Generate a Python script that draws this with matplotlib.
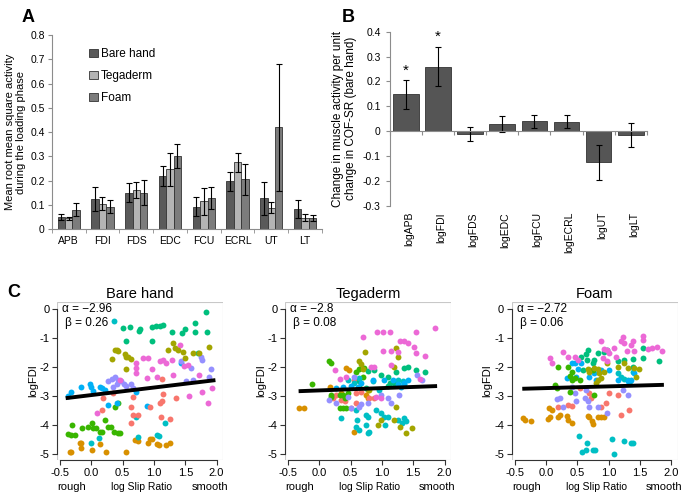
import matplotlib
matplotlib.use("Agg")
import matplotlib.pyplot as plt
from matplotlib.patches import Rectangle
import numpy as np

plt.rcParams['font.family'] = ['Liberation Sans', 'DejaVu Sans']

# ---- panel A data ----
muscles = ["APB", "FDI", "FDS", "EDC", "FCU", "ECRL", "UT", "LT"]
bare_rms = [0.050, 0.125, 0.150, 0.220, 0.093, 0.197, 0.128, 0.083]
bare_rms_err = [0.012, 0.050, 0.040, 0.040, 0.040, 0.040, 0.068, 0.037]
tega_rms = [0.045, 0.105, 0.160, 0.247, 0.115, 0.275, 0.088, 0.047]
tega_rms_err = [0.007, 0.028, 0.033, 0.068, 0.055, 0.040, 0.022, 0.015]
foam_rms = [0.080, 0.093, 0.150, 0.303, 0.128, 0.205, 0.420, 0.047]
foam_rms_err = [0.027, 0.027, 0.052, 0.050, 0.045, 0.063, 0.263, 0.012]

# ---- panel B data ----
log_muscles = ["logAPB", "logFDI", "logFDS", "logEDC", "logFCU", "logECRL", "logUT", "logLT"]
slope_change = [0.148, 0.260, -0.012, 0.028, 0.040, 0.038, -0.125, -0.015]
slope_err = [0.057, 0.080, 0.027, 0.033, 0.027, 0.027, 0.070, 0.050]
significant = [True, True, False, False, False, False, False, False]

# ---- panel C data (log slip ratio, logFDI) per subject colour ----
BARE_ORANGE = [(-0.35, -4.93), (-0.32, -4.93), (-0.19, -4.62), (-0.16, -4.60), (-0.17, -4.79),
               (0.01, -4.87), (0.14, -4.64), (0.23, -4.94), (0.55, -4.93), (0.69, -4.51),
               (0.75, -4.56), (0.93, -4.48), (0.91, -4.62), (0.97, -4.46), (1.04, -4.64),
               (1.08, -4.68), (1.19, -4.70), (1.26, -4.62)]
BARE_GREEN = [(-0.38, -4.32), (-0.33, -4.33), (-0.27, -4.34), (-0.31, -3.99), (-0.15, -4.08),
              (-0.06, -4.05), (0.01, -3.93), (0.03, -4.10), (0.08, -4.11), (0.14, -4.25),
              (0.17, -4.23), (0.21, -3.82), (0.26, -4.05), (0.31, -4.07), (0.36, -4.25),
              (0.42, -4.28), (0.45, -4.28), (0.43, -3.24), (0.38, -3.36)]
BARE_TEAL = [(0.51, -0.66), (0.62, -0.60), (0.56, -1.09), (0.77, -0.69), (0.76, -0.74),
             (0.96, -1.11), (0.97, -0.62), (1.03, -0.57), (1.09, -0.57), (1.14, -0.56),
             (1.28, -0.79), (1.45, -0.83), (1.50, -0.69), (1.66, -0.79), (1.66, -0.48),
             (1.83, -0.08), (1.85, -0.77), (1.70, -1.52)]
BARE_CYAN = [(0.36, -0.39), (0.00, -4.60), (0.12, -4.45), (1.04, -4.33), (1.08, -4.36),
             (1.17, -3.93), (0.71, -3.70), (0.74, -4.39)]
BARE_BLUE = [(-0.38, -2.99), (-0.32, -2.87), (-0.16, -2.69), (-0.02, -2.57), (-0.01, -2.69),
             (0.02, -2.82), (0.13, -2.69), (0.17, -2.72), (0.22, -2.78), (0.27, -3.30),
             (0.41, -3.24), (0.72, -2.84), (0.88, -3.33), (1.43, -1.86)]
BARE_PURPLE = [(0.27, -2.49), (0.33, -2.41), (0.38, -2.34), (0.43, -2.44), (0.48, -2.49),
               (0.52, -2.57), (0.56, -2.64), (0.64, -2.57), (0.67, -2.72), (0.35, -2.67),
               (0.41, -2.57), (1.43, -1.80), (1.75, -1.63), (1.77, -1.75), (1.59, -2.03),
               (1.91, -2.07), (1.88, -2.32), (1.62, -2.44), (1.51, -2.49)]
BARE_PINK = [(0.83, -1.69), (0.91, -1.67), (0.72, -1.86), (0.72, -2.03), (0.72, -2.21),
             (0.88, -2.38), (0.96, -2.07), (1.04, -2.32), (1.09, -1.80), (1.14, -1.75),
             (1.19, -1.86), (1.29, -1.75), (1.30, -2.26), (1.41, -1.23), (1.48, -1.95),
             (1.54, -1.92), (1.56, -2.99), (1.77, -2.84), (1.93, -2.72), (1.87, -3.24),
             (1.72, -2.26), (0.46, -2.44), (0.09, -3.59)]
BARE_SALMON = [(0.17, -3.47), (0.64, -3.36), (0.67, -3.64), (0.75, -3.64), (0.64, -3.93),
               (0.93, -3.36), (1.09, -3.24), (1.13, -3.18), (1.14, -2.92), (1.11, -3.70),
               (1.25, -3.79), (1.35, -3.07), (1.13, -2.41), (0.67, -3.01), (0.35, -2.90),
               (0.19, -3.07)]
BARE_OLIVE = [(0.33, -1.71), (0.38, -1.40), (0.41, -1.40), (0.43, -1.43), (0.54, -1.54),
              (0.56, -1.63), (0.59, -1.66), (0.63, -1.72), (0.56, -2.07), (1.30, -1.17),
              (1.34, -1.34), (1.22, -1.40), (1.38, -1.40), (1.46, -1.46), (1.50, -1.69),
              (1.62, -1.52), (1.72, -1.52), (1.88, -1.29)]

TEGA_ORANGE = [(-0.32, -3.41), (-0.24, -3.41), (0.43, -2.03), (0.47, -2.11), (0.35, -2.90),
               (0.55, -4.25), (0.75, -2.95), (0.77, -2.78), (0.17, -2.67), (0.77, -3.07)]
TEGA_SALMON = [(0.22, -3.07), (0.35, -3.13), (0.41, -3.18), (0.27, -2.95), (0.67, -2.84),
               (0.80, -3.07), (0.88, -3.07), (0.59, -3.24), (0.51, -3.41), (0.56, -2.44),
               (0.59, -2.90)]
TEGA_GREEN = [(-0.11, -2.57), (0.15, -1.80), (0.19, -1.86), (0.18, -2.95), (0.19, -3.03),
              (0.33, -3.39), (0.38, -3.41), (0.42, -3.41), (0.41, -3.07), (0.38, -2.95),
              (0.45, -2.90), (0.59, -2.15), (0.64, -2.07), (0.72, -2.03), (0.70, -2.32),
              (0.64, -2.67), (0.33, -2.95)]
TEGA_TEAL = [(0.77, -2.13), (0.88, -2.09), (0.98, -2.26), (1.09, -2.32), (1.22, -2.15),
             (1.35, -2.03), (1.41, -2.00), (1.54, -2.11), (1.68, -2.15), (1.13, -2.55),
             (1.19, -2.55), (0.75, -2.72), (0.64, -2.49), (1.09, -2.64)]
TEGA_CYAN = [(0.35, -3.76), (0.59, -3.47), (0.60, -3.82), (0.59, -4.05), (0.64, -4.16),
             (0.75, -3.64), (0.77, -3.70), (0.75, -3.99), (0.77, -4.28), (0.80, -4.22),
             (0.91, -3.47), (0.98, -3.59), (1.04, -3.70), (1.09, -3.70), (1.05, -3.99),
             (1.25, -3.82), (1.35, -3.76), (1.32, -3.93), (1.38, -3.87), (0.46, -2.44),
             (0.56, -2.55), (0.64, -2.38), (0.85, -2.49), (0.96, -2.78), (1.25, -2.44),
             (1.33, -2.49), (1.36, -2.57)]
TEGA_BLUE = [(0.27, -2.72), (0.38, -2.69), (0.51, -2.64), (0.62, -2.67), (0.67, -2.55),
             (0.85, -2.44), (1.04, -2.44), (1.17, -2.44), (1.25, -2.57), (1.30, -2.67),
             (1.35, -2.53), (1.41, -2.44)]
TEGA_OLIVE = [(0.73, -1.49), (0.64, -1.80), (0.66, -1.89), (0.69, -2.07), (1.19, -2.00),
              (1.23, -1.34), (1.25, -1.63), (1.19, -3.82), (1.29, -4.05), (1.39, -4.28),
              (1.48, -4.10), (0.98, -3.82), (0.93, -3.99), (1.22, -3.36), (0.80, -2.78)]
TEGA_PURPLE = [(0.15, -3.13), (0.26, -3.24), (0.51, -3.41), (0.64, -3.36), (0.67, -3.26),
               (0.77, -3.24), (0.98, -2.95), (1.09, -3.07), (1.14, -3.24), (1.27, -2.95),
               (1.56, -2.26), (1.64, -2.44), (0.56, -2.32), (0.46, -3.01)]
TEGA_PINK = [(0.69, -0.97), (0.92, -0.80), (1.01, -1.43), (1.01, -0.80), (1.13, -0.77),
             (1.14, -1.43), (1.29, -1.11), (1.35, -1.11), (1.41, -1.15), (1.51, -1.29),
             (1.54, -0.79), (1.55, -1.52), (1.69, -1.60), (1.84, -0.66), (1.25, -1.49),
             (1.14, -1.92), (0.33, -2.41), (0.43, -2.32), (0.83, -1.98), (0.87, -2.00),
             (1.61, -2.41), (0.91, -3.03), (0.25, -2.09), (0.98, -3.07)]

FOAM_ORANGE = [(-0.37, -3.74), (-0.33, -3.82), (-0.24, -3.84), (0.03, -3.79), (0.06, -3.70),
               (0.19, -3.70), (0.22, -3.64), (0.33, -3.68), (0.35, -3.82), (0.42, -3.93),
               (0.67, -3.68), (0.69, -3.72), (0.73, -3.87), (0.75, -3.95), (0.83, -3.72),
               (0.88, -3.72), (0.93, -3.72), (0.05, -3.41), (0.09, -3.47)]
FOAM_SALMON = [(0.19, -3.36), (0.35, -3.30), (0.41, -3.33), (0.54, -2.72), (0.69, -2.90),
               (0.72, -3.07), (0.88, -3.36), (1.01, -2.90), (1.14, -2.95), (1.19, -3.64),
               (1.33, -3.47), (0.96, -3.24)]
FOAM_PURPLE = [(0.17, -3.10), (0.22, -3.07), (0.27, -3.36), (0.48, -3.15), (0.62, -3.07),
               (0.67, -3.18), (0.69, -3.36), (0.83, -3.36), (0.98, -3.59), (1.22, -2.80),
               (1.30, -2.95), (0.63, -2.78), (0.41, -2.67), (0.46, -2.90)]
FOAM_CYAN = [(0.53, -4.37), (0.57, -4.94), (0.63, -4.87), (0.66, -4.60), (0.75, -4.85),
             (0.78, -4.85), (1.06, -4.48), (1.08, -4.99), (1.24, -4.56), (1.35, -4.62),
             (1.38, -4.60), (1.14, -2.21), (1.19, -2.32), (1.25, -2.41), (1.30, -2.44),
             (1.34, -2.49), (1.38, -2.15)]
FOAM_BLUE = [(0.42, -1.84), (0.46, -1.86), (0.51, -2.07), (0.56, -1.86), (0.48, -2.32),
             (0.69, -2.32), (0.76, -2.21), (0.80, -2.44), (0.88, -2.09), (1.01, -2.09),
             (1.14, -2.44), (1.30, -2.49), (1.35, -2.44), (1.41, -2.21), (0.33, -2.38)]
FOAM_GREEN = [(0.19, -2.00), (0.35, -2.00), (0.41, -2.15), (0.38, -2.30), (0.41, -2.44),
              (0.46, -2.38), (0.14, -2.61), (0.17, -2.72), (0.38, -2.84), (0.69, -2.09),
              (0.54, -2.44), (0.77, -2.95), (0.75, -2.09)]
FOAM_TEAL = [(0.56, -1.63), (0.63, -1.54), (0.67, -1.40), (0.66, -1.75), (0.75, -1.86),
             (0.77, -1.75), (0.83, -1.52), (0.93, -1.46), (0.98, -1.40), (1.14, -1.77),
             (1.25, -1.75), (1.38, -1.72), (1.38, -1.98), (1.55, -1.69), (1.54, -1.34),
             (1.80, -1.80), (0.59, -2.09)]
FOAM_OLIVE = [(0.67, -2.07), (0.69, -2.15), (0.77, -2.03), (0.83, -2.07), (0.85, -2.21),
              (0.88, -2.38), (0.93, -2.18), (0.83, -2.44), (0.80, -2.55), (0.98, -1.86),
              (1.25, -1.86), (1.30, -2.03), (1.41, -2.03), (1.49, -2.07), (1.43, -2.32),
              (1.15, -2.00)]
FOAM_PINK = [(0.06, -1.69), (0.09, -1.86), (0.27, -1.49), (0.35, -1.63), (0.46, -1.66),
             (0.51, -1.75), (0.88, -1.11), (0.92, -1.38), (0.98, -1.40), (1.01, -1.52),
             (1.08, -1.34), (1.12, -1.63), (1.19, -1.11), (1.23, -0.94), (1.25, -1.17),
             (1.29, -1.43), (1.35, -1.23), (1.38, -1.11), (1.41, -1.43), (1.54, -1.06),
             (1.55, -0.92), (1.62, -1.38), (1.69, -1.34), (1.77, -1.29), (1.85, -1.43),
             (0.91, -1.69), (0.98, -1.80)]

subject_colors = {
    "salmon": "#F8766D", "orange": "#D89000", "olive": "#A3A500", "green": "#39B600",
    "teal": "#00BF7D", "cyan": "#00BFC4", "blue": "#00B0F6", "purple": "#9590FF",
    "pink": "#EC69D6",
}

conditions = ["Bare hand", "Tegaderm", "Foam"]
alphas = [-2.96, -2.8, -2.72]
betas = [0.26, 0.08, 0.06]
fit_ranges = [(-0.38, 1.95), (-0.30, 1.85), (-0.35, 1.85)]
panel_points = [
    {"orange": BARE_ORANGE, "green": BARE_GREEN, "teal": BARE_TEAL, "cyan": BARE_CYAN,
     "blue": BARE_BLUE, "purple": BARE_PURPLE, "pink": BARE_PINK, "salmon": BARE_SALMON,
     "olive": BARE_OLIVE},
    {"orange": TEGA_ORANGE, "salmon": TEGA_SALMON, "green": TEGA_GREEN, "teal": TEGA_TEAL,
     "cyan": TEGA_CYAN, "blue": TEGA_BLUE, "olive": TEGA_OLIVE, "purple": TEGA_PURPLE,
     "pink": TEGA_PINK},
    {"orange": FOAM_ORANGE, "salmon": FOAM_SALMON, "purple": FOAM_PURPLE, "cyan": FOAM_CYAN,
     "blue": FOAM_BLUE, "green": FOAM_GREEN, "teal": FOAM_TEAL, "olive": FOAM_OLIVE,
     "pink": FOAM_PINK},
]

fig = plt.figure(figsize=(7, 4.96), dpi=100)
axis_gray = "#8c8c8c"

# ---------- A ----------
axA = fig.add_axes([0.074, 0.538, 0.386, 0.391])
x = np.arange(len(muscles))
w = 0.22
ekw = dict(ecolor="black", elinewidth=0.8, capsize=2.5, capthick=0.8)
axA.bar(x - w, bare_rms, w, yerr=bare_rms_err, color="#5a5a5a", edgecolor="#333333",
        linewidth=0.6, error_kw=ekw, label="Bare hand")
axA.bar(x, tega_rms, w, yerr=tega_rms_err, color="#b4b4b4", edgecolor="#333333",
        linewidth=0.6, error_kw=ekw, label="Tegaderm")
axA.bar(x + w, foam_rms, w, yerr=foam_rms_err, color="#7c7c7c", edgecolor="#333333",
        linewidth=0.6, error_kw=ekw, label="Foam")
axA.set_xlim(-0.5, len(muscles) - 0.5)
axA.set_ylim(0, 0.8)
axA.set_yticks(np.arange(0, 0.81, 0.1))
axA.set_yticklabels(["0"] + [f"{v:.1f}" for v in np.arange(0.1, 0.81, 0.1)], fontsize=7.5)
axA.set_xticks(x)
axA.set_xticklabels(muscles, fontsize=7.5)
axA.set_xticks(np.arange(-0.5, len(muscles)), minor=True)
axA.tick_params(axis="x", which="major", length=0, pad=5)
axA.tick_params(axis="x", which="minor", length=3, color=axis_gray)
axA.tick_params(axis="y", length=3, color=axis_gray, labelsize=7.5, pad=2)
for s in ["top", "right"]:
    axA.spines[s].set_visible(False)
for s in ["left", "bottom"]:
    axA.spines[s].set_color(axis_gray)
axA.set_ylabel("Mean root mean square activity\nduring the loading phase", fontsize=8,
               labelpad=3)
axA.legend(loc="upper left", bbox_to_anchor=(0.1, 0.99), frameon=False, fontsize=8.5,
           handlelength=0.7, handleheight=0.7, handletextpad=0.3, labelspacing=0.85)
fig.text(0.04, 0.965, "A", fontsize=13, fontweight="bold", va="center", ha="center")

# ---------- B ----------
axB = fig.add_axes([0.557, 0.585, 0.367, 0.351])
xb = np.arange(len(log_muscles))
axB.bar(xb, slope_change, 0.8, yerr=slope_err, color="#555555", edgecolor="#333333",
        linewidth=0.6, error_kw=ekw)
for i, sig in enumerate(significant):
    if sig:
        axB.text(xb[i], slope_change[i] + slope_err[i] + 0.01, "*", ha="center", va="bottom",
                 fontsize=11)
axB.set_xlim(-0.5, len(log_muscles) - 0.5)
axB.set_ylim(-0.3, 0.4)
axB.set_yticks(np.arange(-0.3, 0.41, 0.1))
axB.set_yticklabels(["-0.3", "-0.2", "-0.1", "0", "0.1", "0.2", "0.3", "0.4"], fontsize=7.5)
axB.spines["bottom"].set_position(("data", 0))
axB.spines["bottom"].set_color(axis_gray)
axB.spines["left"].set_color(axis_gray)
for s in ["top", "right"]:
    axB.spines[s].set_visible(False)
axB.set_xticks(np.arange(-0.5, len(log_muscles)))
axB.set_xticklabels([])
axB.tick_params(axis="x", length=3, color=axis_gray)
axB.tick_params(axis="y", length=3, color=axis_gray, labelsize=7.5)
for i, name in enumerate(log_muscles):
    axB.text(xb[i] + 0.1, -0.325, name, rotation=90, ha="center", va="top", fontsize=7.5)
axB.set_ylabel("Change in muscle activity per unit\nchange in COF-SR (bare hand)", fontsize=8.5)
fig.text(0.497, 0.965, "B", fontsize=13, fontweight="bold", va="center", ha="center")

# ---------- C ----------
lefts = [0.0814, 0.407, 0.731]
for k, cond in enumerate(conditions):
    ax = fig.add_axes([lefts[k], 0.0726, 0.237, 0.3185])
    for cname, pts in panel_points[k].items():
        arr = np.array(pts)
        ax.scatter(arr[:, 0], arr[:, 1], s=18, color=subject_colors[cname], linewidths=0,
                   zorder=2)
    xs = np.array(fit_ranges[k])
    ax.plot(xs, alphas[k] + betas[k] * xs, color="black", linewidth=2.8, zorder=3)
    ax.set_xlim(-0.55, 2.1)
    ax.set_ylim(-5.2, 0.25)
    ax.set_xticks([-0.5, 0.0, 0.5, 1.0, 1.5, 2.0])
    ax.set_xticklabels(["-0.5", "0.0", "0.5", "1.0", "1.5", "2.0"])
    ax.set_yticks([0, -1, -2, -3, -4, -5])
    ax.set_yticklabels(["0", "-1", "-2", "-3", "-4", "-5"])
    ax.tick_params(length=3.5, color="#333333", labelsize=8, pad=2)
    for s in ["top", "right"]:
        ax.spines[s].set_visible(False)
    ax.spines["left"].set_bounds(-5, 0)
    ax.spines["bottom"].set_bounds(-0.5, 2.0)
    ax.spines["left"].set_color("#333333")
    ax.spines["bottom"].set_color("#333333")
    ax.add_patch(Rectangle((0, 0), 1, 1, transform=ax.transAxes, fill=False,
                           edgecolor="#c8c8c8", linewidth=0.8, zorder=1))
    ax.set_title(cond, fontsize=10.5, pad=3)
    ax.set_ylabel("logFDI", fontsize=8, labelpad=1)
    ax.text(0.03, 0.955, f"α = −{abs(alphas[k]):g}", transform=ax.transAxes, fontsize=8.5,
            va="center", ha="left")
    ax.text(0.05, 0.87, f"β = {betas[k]:.2f}", transform=ax.transAxes, fontsize=8.5,
            va="center", ha="left")
    ax.text(0.09, -0.17, "rough", transform=ax.transAxes, fontsize=8, ha="center", va="center")
    ax.text(0.51, -0.17, "log Slip Ratio", transform=ax.transAxes, fontsize=7.5, ha="center",
            va="center")
    ax.text(0.92, -0.17, "smooth", transform=ax.transAxes, fontsize=8, ha="center",
            va="center")
fig.text(0.02, 0.41, "C", fontsize=13, fontweight="bold", va="center", ha="center")

fig.savefig("out.png", dpi=100)
